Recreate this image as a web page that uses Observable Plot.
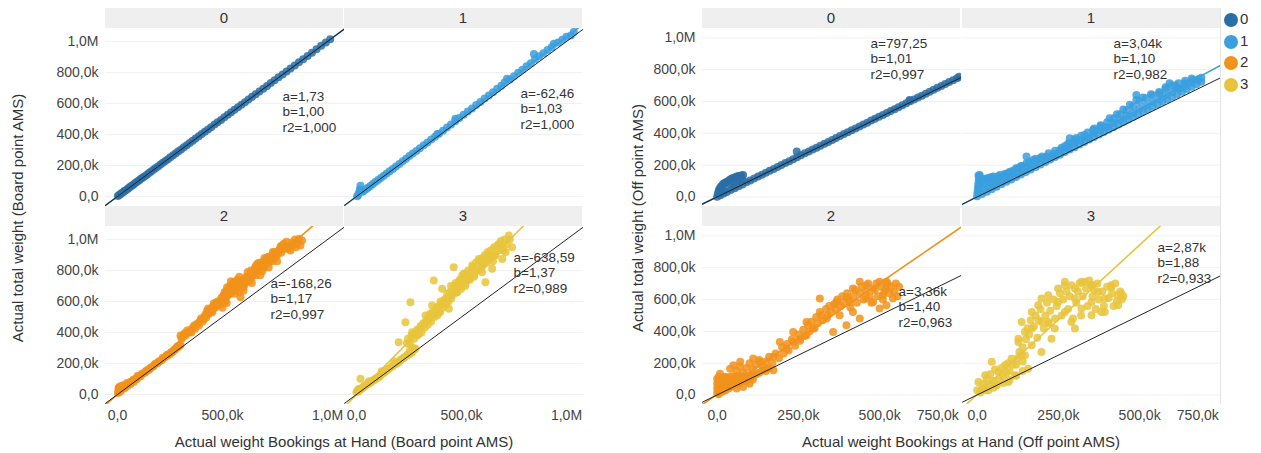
<!DOCTYPE html>
<html><head><meta charset="utf-8">
<script src="https://cdn.jsdelivr.net/npm/d3@7"></script>
<script src="https://cdn.jsdelivr.net/npm/@observablehq/plot@0.6"></script>
<style>
body{margin:0;background:#fff;font-family:"Liberation Sans",Arial,sans-serif;}
#root{position:relative;width:1261px;height:453px;overflow:hidden;background:#fff;}
.panel{position:absolute;}
.hdr{position:absolute;height:20px;background:#efefef;color:#333;font-size:15px;text-align:center;line-height:20px;}
.ytitle{position:absolute;transform:translate(-50%,-50%) rotate(-90deg);white-space:nowrap;font-size:15px;color:#333;}
.xtitle{position:absolute;transform:translate(-50%,-50%);white-space:nowrap;font-size:15px;color:#333;}
.leg{position:absolute;font-size:15px;color:#333;}
.leg div{position:absolute;white-space:nowrap;}
.leg span{display:inline-block;width:14px;height:14px;border-radius:50%;vertical-align:middle;margin-right:2px;}
</style></head>
<body><div id="root"></div>
<script>
// ---------- DATA (values in thousands) ----------
const categories = ["0","1","2","3"];
const colors = ["#2a6ea7","#3a9fde","#f1921b","#e7c43c"];

const boardYTitle = "Actual total weight (Board point AMS)";
const boardXTitle = "Actual weight Bookings at Hand (Board point AMS)";
const offYTitle = "Actual total weight (Off point AMS)";
const offXTitle = "Actual weight Bookings at Hand (Off point AMS)";

const yTicks = [0, 200000, 400000, 600000, 800000, 1000000];
const boardXTicks = [0, 500000, 1000000];
const offXTicks = [0, 250000, 500000, 750000];

const boardA = [1.73, -62.46, -168.26, -638.59];
const boardALabel = ["1,73", "-62,46", "-168,26", "-638,59"];
const boardB = [1.00, 1.03, 1.17, 1.37];
const boardR2 = ["1,000", "1,000", "0,997", "0,989"];

const offA = [797.25, 3040, 3360, 2870];
const offALabel = ["797,25", "3,04k", "3,36k", "2,87k"];
const offB = [1.01, 1.10, 1.40, 1.88];
const offR2 = ["0,997", "0,982", "0,963", "0,933"];

const board0 = [[2,4],[8,9],[14,15],[20,22],[27,28],[33,35],[40,41],[48,49],[55,56],[62,64],[70,71],[78,79],[86,88],[95,96],[104,105],[112,114],[121,122],[130,131],[140,141],[150,152],[160,161],[171,172],[182,184],[193,194],[205,206],[216,218],[228,229],[240,241],[252,254],[265,266],[278,279],[290,292],[303,304],[316,318],[330,331],[344,346],[358,359],[372,374],[387,388],[401,403],[416,417],[431,433],[446,447],[462,464],[477,479],[493,494],[509,511],[525,527],[541,543],[557,559],[574,576],[590,592],[607,608],[624,626],[641,643],[658,660],[676,678],[694,696],[712,713],[730,732],[748,750],[767,769],[786,788],[805,807],[824,826],[844,846],[864,866],[884,886],[905,907],[926,928],[948,950],[970,972],[992,994],[1013,1015]];

const board1 = [[3,2],[8,9],[12,25],[16,45],[19,70],[22,40],[28,30],[35,37],[45,47],[55,57],[66,68],[78,80],[90,93],[103,106],[116,120],[130,134],[144,149],[158,163],[173,178],[188,194],[204,210],[220,227],[236,244],[252,262],[268,278],[285,294],[302,312],[320,330],[338,349],[356,368],[374,386],[385,404],[393,405],[412,425],[431,445],[450,465],[471,501],[470,486],[490,506],[510,527],[530,548],[550,568],[570,590],[590,610],[610,632],[630,652],[650,673],[670,695],[690,715],[705,735],[717,759],[730,755],[750,776],[770,798],[790,818],[810,840],[830,860],[845,920],[850,885],[870,905],[890,925],[910,945],[930,965],[940,985],[960,993],[980,1012],[1000,1030],[1021,1039],[1035,1062]];

const board2 = [[2,10],[5,25],[8,40],[12,18],[15,30],[20,45],[25,35],[30,55],[35,42],[40,60],[48,55],[55,70],[62,68],[70,85],[78,82],[85,100],[92,98],[100,115],[110,118],[120,135],[130,140],[140,155],[150,160],[160,175],[170,180],[180,198],[190,202],[200,215],[212,222],[225,240],[238,250],[250,262],[262,275],[275,290],[288,305],[300,320],
[5,40],[10,50],[18,55],[28,60],[45,75],[60,80],[75,95],[95,120],[115,130],[135,150],[155,170],[175,190],[195,210],[215,235],[235,255],[255,270],[270,285],[285,310],[295,315],
[300,381],[310,370],[320,395],[332,413],[345,405],[360,430],[375,450],[395,477],[405,470],[415,505],[427,542],[435,520],[445,535],[458,587],[465,560],[475,575],[490,606],[498,590],[505,640],[515,620],[522,692],[530,660],[540,650],[548,700],[554,725],[565,690],[575,720],[586,735],[586,628],[595,700],[605,710],[615,745],[625,730],[633,778],[640,760],[650,790],[658,770],[665,843],[672,800],[680,820],[690,795],[700,840],[705,860],[713,886],[720,850],[730,870],[744,908],[750,880],[760,900],[770,930],[780,915],[792,972],[800,940],[810,955],[824,929],[835,965],[850,950],[860,990],[871,961],[879,994],
[305,360],[315,385],[325,380],[338,400],[350,420],[352,400],[365,445],[370,425],[382,460],[388,445],[398,490],[410,485],[420,520],[422,495],[432,555],[440,545],[450,560],[452,530],[460,570],[470,595],[480,600],[485,580],[495,625],[502,610],[510,660],[512,600],[520,670],[525,640],[535,700],[538,670],[545,680],[550,720],[560,710],[562,670],[570,740],[578,700],[580,660],[590,720],[598,740],[600,690],[610,730],[612,760],[620,760],[628,750],[635,800],[645,780],[655,820],[660,795],[668,820],[675,850],[685,830],[695,860],[698,820],[708,870],[715,860],[722,890],[735,890],[738,860],[748,920],[755,900],[765,920],[775,950],[785,940],[795,960],[805,985],[815,940],[830,980],[845,1000],[855,975],[865,1005],
[500,560],[520,590],[560,650],[600,670],[640,720],[680,770],[720,820],[760,860],[540,730],[580,760],[620,790],[660,830],[700,880],[740,920],[780,960]];

const board3 = [[0,15],[5,25],[10,35],[15,30],[19,101],[25,40],[30,45],[35,50],[43,58],[50,65],[58,70],[65,78],[72,85],[80,90],[88,98],[95,105],[106,112],[115,125],[125,135],[135,145],[145,155],[154,166],[165,178],[175,188],[185,196],[195,205],[201,209],[201,337],[215,228],[228,240],[240,252],[252,262],[265,273],[281,295],[270,300],[255,285],[60,85],[120,150],[180,215],
[8,20],[20,32],[40,55],[55,72],[70,80],[85,95],[100,110],[110,120],[130,140],[150,165],[170,180],[190,200],[210,222],[225,236],[245,258],[260,270],[275,290],
[233,467],[265,402],[257,596],[329,510],[368,735],[360,574],[424,617],[408,682],[463,821],[471,703],[503,768],[535,746],[551,832],[582,875],[598,789],[630,897],[646,811],[678,972],[694,875],[725,1026],[741,950],[710,918],[614,725],[440,553],[392,531],[313,445],[344,488],[300,420],[350,520],[380,560],[400,600],[420,580],[450,640],[480,660],[500,700],[520,720],[560,760],[570,800],[600,830],[620,850],[650,860],[660,900],[700,930],[450,700],[490,730],[520,780],[330,470],[290,380],
[240,330],[245,360],[255,330],[262,380],[275,360],[280,400],[290,420],[298,390],[305,440],[310,400],[318,460],[325,430],[335,480],[340,450],[348,500],[355,470],[362,530],[370,500],[378,540],[385,510],[392,570],[398,530],[405,590],[412,560],[418,610],[425,580],[432,650],[438,600],[445,660],[452,620],[458,690],[465,650],[472,720],[478,660],[485,700],[492,740],[498,680],[505,720],[512,780],[518,700],[525,760],[532,800],[540,740],[545,790],[555,820],[560,770],[568,850],[575,800],[585,860],[590,810],[598,880],[605,840],[612,900],[618,860],[625,920],[632,870],[640,930],[648,890],[655,950],[662,900],[670,960],[680,930],[688,990],[695,950],[705,1000],[715,970],[730,1000]];

const off0 = [[2,20],[5,40],[8,55],[12,65],[16,75],[20,85],[25,90],[30,96],[35,100],[40,110],[45,115],[49,119],[55,122],[60,128],[65,130],[70,133],[75,135],[80,138],[78,110],[60,100],[40,80],[20,50],[50,90],[70,110],
[0,2],[10,11],[20,21],[30,31],[42,43],[54,55],[66,67],[78,79],[90,92],[102,104],[114,116],[126,128],[138,140],[150,152],[162,164],[174,176],[186,189],[198,201],[210,213],[222,225],[234,237],[245,285],[246,249],[258,262],[270,274],[282,286],[294,298],[306,310],[318,322],[330,334],[342,346],[354,358],[366,370],[378,383],[390,395],[402,407],[414,419],[426,431],[438,443],[450,455],[462,467],[474,480],[486,492],[498,504],[510,516],[522,528],[534,540],[546,552],[558,564],[570,577],[582,589],[592,610],[594,601],[606,613],[618,625],[630,637],[642,649],[654,661],[666,674],[678,686],[690,698],[702,710],[714,722],[726,734],[738,746],[745,755]];

const off1 = [[0,5],[1,25],[2,45],[3,65],[4,85],[5,105],[6,125],[8,138],[4,135],[9,117],[7,50],
[15,18],[30,33],[45,48],[60,64],[75,80],[90,95],[105,110],[120,126],[135,141],[150,157],[165,172],[180,188],[195,204],[210,219],[225,235],[240,251],[255,266],[270,282],[285,298],[300,313],[315,329],[330,345],[345,361],[360,377],[375,393],[390,408],[405,424],[420,440],[435,456],[450,471],[465,487],[480,503],[495,519],[510,535],[525,551],[540,567],[555,583],[570,598],[585,614],[600,630],[615,646],[630,662],[645,677],[660,693],[675,708],[690,725],
[20,112],[35,120],[50,128],[70,138],[85,145],[101,159],[120,180],[135,195],[152,212],[152,254],[173,233],[195,245],[214,254],[235,270],[255,295],[270,320],[285,338],[285,369],[305,370],[330,390],[357,421],[380,450],[408,495],[430,520],[450,550],[470,580],[490,610],[490,641],[510,625],[535,645],[561,652],[580,690],[592,715],[610,700],[623,683],[640,715],[663,736],[680,740],
[15,60],[15,100],[25,80],[25,115],[35,60],[35,100],[45,90],[45,125],[55,75],[55,110],[65,100],[65,130],[75,95],[75,125],[85,110],[85,140],[95,120],[95,150],[110,140],[110,165],[125,150],[125,180],[140,165],[140,195],[160,190],[160,220],[180,210],[180,240],[200,230],[200,255],[220,250],[220,275],[240,270],[240,290],[260,290],[260,310],[280,310],[280,335],[300,335],[300,360],[320,355],[320,385],[340,375],[340,405],[360,400],[360,430],[380,420],[380,445],[400,440],[400,470],[420,465],[420,495],[440,485],[440,520],[460,510],[460,545],[480,530],[480,570],[500,555],[500,600],[520,575],[520,620],[540,595],[540,640],[560,615],[560,660],[580,640],[580,680],[600,660],[600,700],[620,680],[620,715],[640,700],[640,730],[660,720],[660,745],[680,735],[690,750]];

const off2 = [[0,10],[0,40],[0,70],[0,100],[5,115],[15,110],[25,115],[35,112],[45,118],[55,115],[65,120],[75,115],[85,118],[95,115],[105,110],[10,60],[20,30],[30,80],[40,50],[50,90],[60,40],[70,75],[80,50],[90,85],[100,70],[110,95],[5,5],[15,20],[25,28],[35,40],[120,130],[130,140],[140,155],[150,150],[160,170],
[5,30],[5,60],[5,90],[15,45],[15,80],[25,55],[25,95],[35,75],[45,60],[45,95],[55,65],[55,95],[65,75],[65,100],[75,85],[75,105],[85,95],[95,105],[100,120],[110,118],
[50,187],[111,229],[173,239],[152,165],[193,333],[234,396],[255,354],[275,459],[295,417],[316,522],[337,480],[367,585],[377,501],[418,669],[408,585],[439,711],[459,606],[480,669],[500,711],[521,669],[541,606],[521,564],[500,543],[418,522],[357,396],[316,606],[173,155],[214,291],[132,208],[71,208],[40,165],[9,134],[398,438],[439,480],[480,585],[459,690],[398,616],[521,711],[510,627],[275,375],[234,333],
[60,150],[70,180],[80,140],[90,170],[100,200],[110,160],[120,190],[130,220],[140,180],[150,210],[160,240],[170,200],[180,260],[190,230],[200,300],[205,260],[215,320],[220,280],[230,350],[240,310],[250,380],[255,340],[265,410],[270,370],[280,440],[285,400],[290,460],[300,420],[305,490],[310,450],[320,500],[325,470],[335,540],[340,500],[345,560],[350,520],[360,570],[365,540],[370,600],[380,560],[385,620],[390,580],[400,640],[405,600],[410,550],[420,620],[425,660],[430,580],[440,640],[445,680],[450,600],[460,650],[465,700],[470,620],[475,580],[485,660],[490,700],[495,620],[505,680],[510,600],[515,650],[525,700],[530,640],[535,680],[545,650],[550,700],[555,620],[560,680]];

const off3 = [[0,30],[4,82],[25,124],[45,208],[65,145],[86,187],[106,228],[117,124],[96,82],[55,61],[25,30],[157,165],[137,249],[10,15],[35,60],[70,100],[90,140],[120,190],
[15,40],[20,70],[30,100],[40,130],[50,90],[55,160],[60,60],[75,170],[80,120],[95,200],[100,150],[110,190],[125,230],[130,270],[140,210],[35,30],[50,45],[80,75],[100,95],[120,120],[140,150],
[127,333],[137,459],[168,522],[198,606],[249,669],[270,690],[331,711],[352,690],[413,679],[433,627],[393,522],[301,417],[229,354],[198,270],[168,312],[147,249],
[168,417],[219,459],[270,522],[249,585],[301,606],[321,543],[352,585],[372,648],[393,606],[434,564],[444,637],[413,690],[270,711],[219,627],[188,564],[147,396],[127,354],[198,459],[239,417],[290,459],[352,501],[382,522],[301,669],[352,690],[321,711],
[140,300],[150,350],[155,420],[160,380],[165,470],[175,430],[180,500],[185,360],[190,470],[195,540],[205,420],[210,500],[215,580],[220,450],[225,530],[235,600],[240,480],[245,560],[255,640],[260,500],[265,600],[275,650],[280,540],[285,620],[290,690],[295,480],[305,580],[310,650],[315,700],[320,500],[325,620],[335,670],[340,560],[345,720],[355,620],[360,660],[365,540],[370,700],[375,600],[385,650],[390,560],[400,680],[405,610],[415,640],[420,560],[425,700],[430,590],[440,650],[445,600],[450,620]];

// ---------- LAYOUT / STYLE ----------
const fmt = v => v === 0 ? "0,0" : Math.abs(v) >= 1e6 ? (v/1e6).toFixed(1).replace(".", ",") + "M" : (v/1e3).toFixed(1).replace(".", ",") + "k";
const bFmt = v => v.toFixed(2).replace(".", ",");

const groups = [
  {points:[board0,board1,board2,board3], a:boardA, aLabel:boardALabel, b:boardB, r2:boardR2, xTicks:boardXTicks, xTitle:boardXTitle, yTitle:boardYTitle,
   x0s:[105,344], w:239, xDomain:[-57000,1081000], yDomain:[-64500,1084000], edgeTicks:[], yTitleX:17, xTitleX:344,
   ann:[[177,61],[176,58],[165,50],[169,24]]},
  {points:[off0,off1,off2,off3], a:offA, aLabel:offALabel, b:offB, r2:offR2, xTicks:offXTicks, xTitle:offXTitle, yTitle:offYTitle,
   x0s:[702,962], w:259, xDomain:[-45000,752000], yDomain:[-60000,1059000], edgeTicks:[750000], yTitleX:637, xTitleX:961,
   ann:[[168,8],[151,8],[196,58],[195,14]]}
];
const rowTop = [28, 226], hdrTop = [8, 206], plotH = 178;
const font = '"Liberation Sans", Arial, sans-serif';
const root = document.getElementById("root");

function el(cls, css, text) {
  const d = document.createElement("div");
  d.className = cls; Object.assign(d.style, css);
  if (text != null) d.textContent = text;
  root.appendChild(d); return d;
}

for (const g of groups) {
  for (let i = 0; i < 4; i++) {
    const col = i % 2, row = Math.floor(i / 2);
    const mL = col === 0 ? 80 : 0, mB = row === 1 ? 34 : 0;
    const [d0, d1] = g.xDomain;
    const pts = g.points[i].map(([x, y]) => ({x: x * 1000, y: y * 1000}));
    const reg = [{x: d0, y: g.a[i] + g.b[i] * d0}, {x: d1, y: g.a[i] + g.b[i] * d1}];
    const ident = [{x: d0, y: d0}, {x: d1, y: d1}];
    const label = `a=${g.aLabel[i]}\nb=${bFmt(g.b[i])}\nr2=${g.r2[i]}`;
    const marks = [
      Plot.gridY(yTicks, {stroke: "#f1f1f1", strokeOpacity: 1}),
      Plot.dot(pts, {x: "x", y: "y", r: 4, fill: colors[i], fillOpacity: 0.85, clip: true}),
      Plot.line(reg, {x: "x", y: "y", stroke: colors[i], strokeWidth: 1.6, clip: true}),
      Plot.line(ident, {x: "x", y: "y", stroke: "#222", strokeWidth: 1, clip: true}),
      Plot.text([label], {frameAnchor: "top-left", dx: g.ann[i][0], dy: g.ann[i][1], lineAnchor: "top", textAnchor: "start", fontSize: 13.5, fill: "#333", lineHeight: 1.15})
    ];
    if (col === 0) marks.push(Plot.axisY(yTicks, {tickSize: 0, tickPadding: 7, tickFormat: fmt, fontSize: 14, fill: "#444", label: null}));
    if (row === 1) {
      const main = g.xTicks.filter(t => !g.edgeTicks.includes(t));
      marks.push(Plot.axisX(main, {tickSize: 0, tickPadding: 6, tickFormat: fmt, fontSize: 14, fill: "#444", label: null}));
      if (g.edgeTicks.length) marks.push(Plot.axisX(g.edgeTicks, {tickSize: 0, tickPadding: 6, tickFormat: fmt, fontSize: 14, fill: "#444", label: null, textAnchor: "end", dx: -2}));
    }
    const svg = Plot.plot({
      width: g.w + mL, height: plotH + mB,
      marginLeft: mL, marginRight: 0, marginTop: 0, marginBottom: mB,
      x: {domain: g.xDomain, axis: null},
      y: {domain: g.yDomain, axis: null},
      style: {fontFamily: font, background: "transparent"},
      marks
    });
    const wrap = el("panel", {left: (g.x0s[col] - mL) + "px", top: rowTop[row] + "px", width: (g.w + mL) + "px", height: (plotH + mB) + "px"});
    wrap.appendChild(svg);
    el("hdr", {left: g.x0s[col] + "px", top: hdrTop[row] + "px", width: (g.w - 1) + "px"}, categories[i]);
  }
  el("ytitle", {left: g.yTitleX + "px", top: "218px"}, g.yTitle);
  el("xtitle", {left: g.xTitleX + "px", top: "441px"}, g.xTitle);
}
// right border of the right group
el("", {position: "absolute", left: "1220px", top: "8px", width: "1px", height: "396px", background: "#e4e4e4"});

// legend
const leg = el("leg", {left: "1224px", top: "0px"});
categories.forEach((c, i) => {
  const d = document.createElement("div");
  d.style.top = (10 + i * 21.5) + "px"; d.style.left = "0px";
  d.innerHTML = `<span style="background:${colors[i]}"></span>${c}`;
  leg.appendChild(d);
});
</script>
</body></html>
